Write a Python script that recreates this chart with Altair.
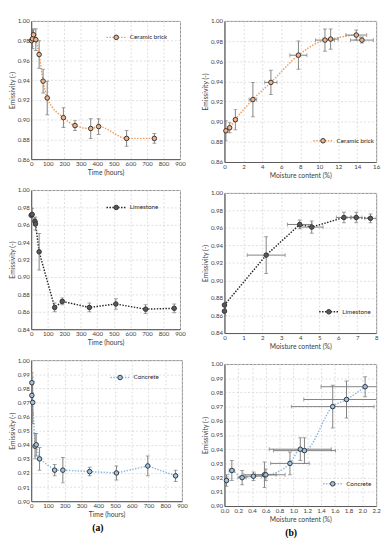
import altair as alt
import pandas as pd

# ---------------- data ----------------
# Ceramic brick: emissivity vs time
cb_time = [2, 8, 14, 28, 48, 72, 97, 195, 265, 360, 408, 577, 745]
cb_time_emis = [0.980, 0.982, 0.986, 0.981, 0.966, 0.939, 0.922, 0.902, 0.894, 0.891, 0.893, 0.881, 0.881]
cb_time_err = [0.006, 0.010, 0.005, 0.011, 0.014, 0.012, 0.017, 0.010, 0.005, 0.010, 0.008, 0.008, 0.005]

# Ceramic brick: emissivity vs moisture content
cb_moist = [0.15, 0.55, 1.15, 3.0, 4.9, 7.8, 10.6, 11.2, 13.9, 14.5]
cb_moist_emis = [0.891, 0.894, 0.902, 0.922, 0.939, 0.966, 0.981, 0.982, 0.986, 0.981]
cb_moist_err = [0.010, 0.005, 0.010, 0.017, 0.012, 0.014, 0.011, 0.010, 0.005, 0.003]
cb_moist_xerr = [0.1, 0.1, 0.15, 0.4, 0.65, 0.9, 1.0, 0.8, 1.1, 1.2]

# Limestone: emissivity vs time
ls_time = [0, 6, 23, 26, 48, 142, 188, 352, 512, 692, 865]
ls_time_emis = [0.971, 0.972, 0.964, 0.961, 0.929, 0.865, 0.872, 0.865, 0.869, 0.863, 0.864]
ls_time_err = [0.008, 0.007, 0.005, 0.007, 0.021, 0.005, 0.004, 0.005, 0.006, 0.005, 0.005]

# Limestone: emissivity vs moisture content
ls_moist = [0.0, 0.0, 2.2, 3.97, 4.6, 6.3, 6.95, 7.7]
ls_moist_emis = [0.865, 0.872, 0.929, 0.964, 0.961, 0.972, 0.972, 0.971]
ls_moist_err = [0.005, 0.004, 0.021, 0.005, 0.007, 0.006, 0.006, 0.005]
ls_moist_xerr = [0.0, 0.0, 1.0, 0.65, 0.6, 0.4, 0.3, 0.3]

# Concrete: emissivity vs time
cc_time = [4, 4, 9, 23, 30, 50, 140, 189, 349, 509, 696, 862]
cc_time_emis = [0.984, 0.975, 0.970, 0.939, 0.940, 0.930, 0.922, 0.922, 0.921, 0.920, 0.925, 0.918]
cc_time_err = [0.007, 0.013, 0.015, 0.009, 0.008, 0.008, 0.004, 0.009, 0.003, 0.005, 0.007, 0.004]

# Concrete: emissivity vs moisture content
cc_moist = [0.03, 0.107, 0.256, 0.42, 0.58, 0.60, 0.95, 1.10, 1.16, 1.57, 1.77, 2.04]
cc_moist_emis = [0.918, 0.925, 0.920, 0.921, 0.922, 0.922, 0.930, 0.940, 0.939, 0.970, 0.975, 0.984]
cc_moist_err = [0.004, 0.007, 0.005, 0.003, 0.009, 0.004, 0.008, 0.008, 0.009, 0.015, 0.013, 0.007]
cc_moist_xerr = [0.02, 0.04, 0.06, 0.12, 0.3, 0.15, 0.28, 0.45, 0.45, 0.6, 0.62, 0.64]

names = ["Ceramic brick", "Limestone", "Concrete"]
time_ticks = list(range(0, 1000, 100))

FONT = "Lato"
EB = "#7f7f7f"
EDGE = "#333333"


def panel(x, e, err, xerr, name, fill, linecol, xtitle, xdom, xvals, xfmt,
          ydom, yvals, leg, interp, w, h):
    df = pd.DataFrame({"x": x, "e": e, "err": err})
    df["i"] = range(len(df))
    df["lo"] = df["e"] - df["err"]
    df["hi"] = df["e"] + df["err"]

    def X(f):
        return alt.X(f"{f}:Q", title=xtitle,
                     scale=alt.Scale(domain=xdom, nice=False, zero=False),
                     axis=alt.Axis(values=xvals, format=xfmt))

    def Y(f):
        return alt.Y(f"{f}:Q", title="Emissivity (-)",
                     scale=alt.Scale(domain=ydom, nice=False, zero=False),
                     axis=alt.Axis(values=yvals, format=".2f"))

    base = alt.Chart(df)
    layers = [
        base.mark_line(color=linecol, strokeDash=[1.5, 1.5], strokeWidth=1.5,
                       interpolate=interp, clip=True).encode(X("x"), Y("e"), order="i:Q"),
        base.mark_rule(color=EB, strokeWidth=1, clip=True).encode(X("x"), Y("lo"), y2="hi:Q"),
        base.mark_tick(color=EB, orient="horizontal", size=4, thickness=1, clip=True).encode(X("x"), Y("lo")),
        base.mark_tick(color=EB, orient="horizontal", size=4, thickness=1, clip=True).encode(X("x"), Y("hi")),
    ]
    if xerr is not None:
        dx = df.copy()
        dx["xerr"] = xerr
        dx = dx[dx["xerr"] > 0].copy()
        dx["xlo"] = dx["x"] - dx["xerr"]
        dx["xhi"] = dx["x"] + dx["xerr"]
        bx = alt.Chart(dx)
        layers += [
            bx.mark_rule(color=EB, strokeWidth=1, clip=True).encode(X("xlo"), x2="xhi:Q", y=Y("e")),
            bx.mark_tick(color=EB, orient="vertical", size=4, thickness=1, clip=True).encode(X("xlo"), Y("e")),
            bx.mark_tick(color=EB, orient="vertical", size=4, thickness=1, clip=True).encode(X("xhi"), Y("e")),
        ]
    layers.append(
        base.mark_circle(size=22, color=fill, stroke=EDGE, strokeWidth=1, opacity=1)
        .encode(X("x"), Y("e"))
    )
    # in-plot legend
    lx, ly = leg
    lb = alt.Chart(pd.DataFrame({"name": [name]}))
    layers += [
        lb.mark_rule(color=linecol, strokeDash=[1.5, 1.5], strokeWidth=1.5)
        .encode(x=alt.value(lx), x2=alt.value(lx + 20), y=alt.value(ly)),
        lb.mark_circle(size=22, color=fill, stroke=EDGE, strokeWidth=1, opacity=1)
        .encode(x=alt.value(lx + 10), y=alt.value(ly)),
        lb.mark_text(align="left", baseline="middle", font=FONT, fontSize=6.5, color="#262626")
        .encode(x=alt.value(lx + 24), y=alt.value(ly), text="name:N"),
    ]
    return alt.layer(*layers).properties(width=w, height=h)


y1 = [round(0.86 + 0.02 * k, 2) for k in range(8)]
y2 = [round(0.84 + 0.02 * k, 2) for k in range(9)]
y3 = [round(0.90 + 0.01 * k, 2) for k in range(11)]

ORANGE_F, ORANGE_L = "#f4b183", "#f29a55"
GRAY_F, GRAY_L = "#595959", "#262626"
BLUE_F, BLUE_L = "#9dc3e6", "#8db8e2"

p1 = panel(cb_time, cb_time_emis, cb_time_err, None, names[0], ORANGE_F, ORANGE_L,
           "Time (hours)", [0, 900], time_ticks, "d", [0.86, 1.0], y1, (78, 17), "monotone", 154, 143)
p2 = panel(cb_moist, cb_moist_emis, cb_moist_err, cb_moist_xerr, names[0], ORANGE_F, ORANGE_L,
           "Moisture content (%)", [0, 16], list(range(0, 17, 2)), "d", [0.86, 1.0], y1, (92, 124), "monotone", 157, 146)
p3 = panel(ls_time, ls_time_emis, ls_time_err, None, names[1], GRAY_F, GRAY_L,
           "Time (hours)", [0, 900], time_ticks, "d", [0.84, 1.0], y2, (78, 18), "linear", 154, 144)
p4 = panel(ls_moist, ls_moist_emis, ls_moist_err, ls_moist_xerr, names[1], GRAY_F, GRAY_L,
           "Moisture content (%)", [0, 8], list(range(0, 9)), "d", [0.84, 1.0], y2, (98, 123), "linear", 157, 145)
p5 = panel(cc_time, cc_time_emis, cc_time_err, None, names[2], BLUE_F, BLUE_L,
           "Time (hours)", [0, 900], time_ticks, "d", [0.90, 1.0], y3, (82, 18), "linear", 156, 146)
p6 = panel(cc_moist, cc_moist_emis, cc_moist_err, cc_moist_xerr, names[2], BLUE_F, BLUE_L,
           "Moisture content (%)", [0, 2.2], [round(0.2 * k, 1) for k in range(12)], ".1f", [0.90, 1.0], y3, (102, 124), "monotone", 157, 147)

tp = dict(orient="bottom", font="Liberation Serif", fontSize=10, fontWeight="bold", color="#000000", offset=5, anchor="middle")
left = alt.vconcat(p1, p3, p5, spacing=10, title=alt.TitleParams("(a)", **tp))
right = alt.vconcat(p2, p4, p6, spacing=10, title=alt.TitleParams("(b)", **tp))

chart = (
    alt.hconcat(left, right, spacing=14)
    .properties(padding={"left": 0, "right": 0, "top": 0, "bottom": 0}, background="white")
    .configure_view(stroke="#8c8c8c", strokeWidth=1)
    .configure_axis(
        labelFont=FONT, titleFont=FONT, labelFontSize=6.3, titleFontSize=7,
        titleFontWeight="normal", labelColor="#404040", titleColor="#404040",
        gridColor="#d4d4d4", gridDash=[2, 2], gridWidth=0.8,
        domainColor="#595959", domainWidth=1, ticks=False,
        labelPadding=2, titlePadding=2, labelFlush=False,
    )
)

chart.save("out.html", embed_options={"renderer": "svg", "actions": False})
